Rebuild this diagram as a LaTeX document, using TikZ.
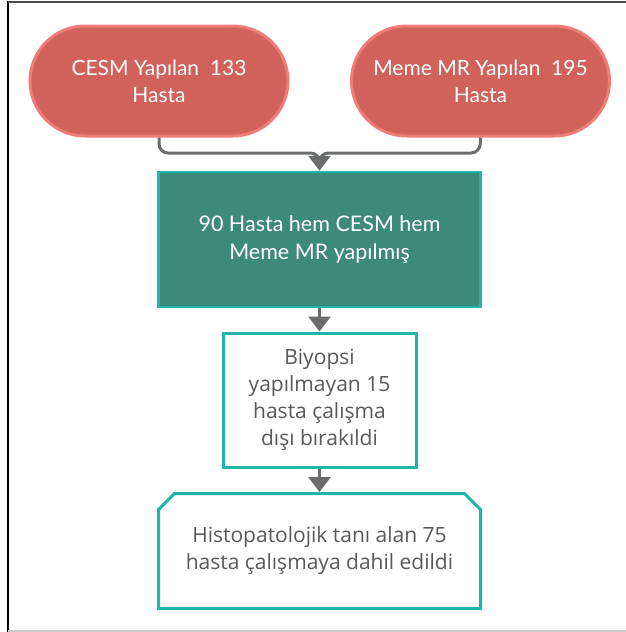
\documentclass[tikz,border=0pt]{standalone}
\usepackage{fontspec}
\setmainfont{Lato}
\newfontfamily\lowfont{Open Sans}
\usetikzlibrary{shapes.misc,arrows.meta}
\definecolor{pillfill}{HTML}{D0625B}
\definecolor{pillline}{HTML}{F07C78}
\definecolor{greenfill}{HTML}{3E8A78}
\definecolor{tealline}{HTML}{1DB5AC}
\definecolor{arrowgray}{HTML}{6A6C6E}
\definecolor{textgray}{HTML}{58595B}
\tikzset{
  pill/.style={draw=pillline, fill=pillfill, line width=3pt, rounded corners=55pt,
    minimum width=258pt, minimum height=110pt, text=white, align=center,
    font=\fontsize{21}{27}\selectfont},
  greenbox/.style={draw=tealline, fill=greenfill, line width=2.5pt,
    minimum width=322pt, minimum height=135pt, text=white, align=center,
    font=\fontsize{21.5}{28}\selectfont},
  whitebox/.style={draw=tealline, fill=white, line width=3pt, text=textgray, align=center,
    font=\lowfont\fontsize{21}{27}\selectfont},
  conn/.style={draw=arrowgray, line width=3pt, rounded corners=9pt},
  tip/.style={-{Triangle[width=22pt,length=15pt]}},
}
\begin{document}
\begin{tikzpicture}[x=1pt,y=-1pt]
\useasboundingbox (0,0) rectangle (626,632);
% frame
\draw[line width=2pt, black] (8,1) -- (8,632);
\draw[line width=1.5pt, black!70] (8,2) -- (626,2);
\draw[line width=1.5pt, black!20] (8,631) -- (626,631);
% nodes
\node[pill] (L) at (159,81) {CESM Yapılan\ \ 133\\Hasta};
\node[pill] (R) at (480.5,81) {Meme MR Yapılan\ \ 195\\Hasta};
\node[greenbox] (G) at (319.5,239.5) {90 Hasta hem CESM hem\\Meme MR yapılmış};
\node[whitebox, minimum width=193pt, minimum height=134pt] (B2) at (319.5,400) {Biyopsi\\yapılmayan 15\\hasta çalışma\\dışı bırakıldi};
\node[whitebox, chamfered rectangle, chamfered rectangle corners={north west,north east},
  chamfered rectangle xsep=8pt, chamfered rectangle ysep=8pt,
  minimum width=322pt, minimum height=115pt, inner sep=0pt] (B3) at (319.5,551)
  {Histopatolojik tanı alan 75\\hasta çalışmaya dahil edildi};
% connectors
\draw[conn] (L.south) -- (159,153) -- (319.5,153) -- (319.5,160);
\draw[conn, tip] (R.south) -- (480,153) -- (319.5,153) -- (G.north);
\draw[conn, tip] (G.south) -- (B2.north);
\draw[conn, tip] (B2.south) -- (B3.north);
\end{tikzpicture}
\end{document}
